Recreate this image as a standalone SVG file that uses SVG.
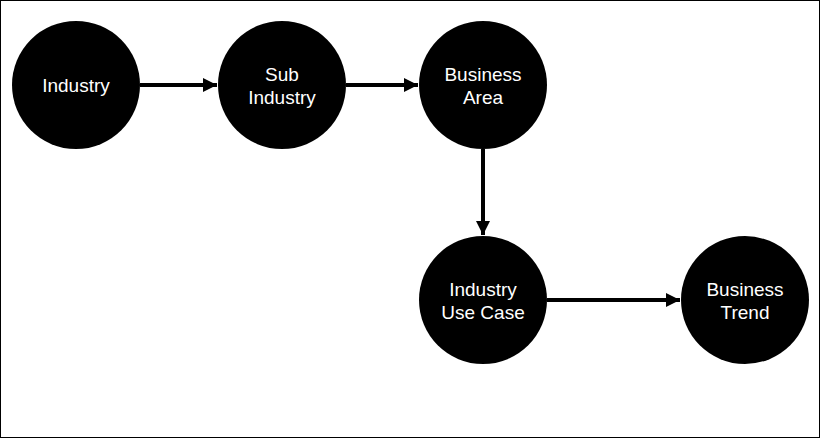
<svg xmlns="http://www.w3.org/2000/svg" width="821" height="439" viewBox="0 0 821 439">
<style>
.node circle{fill:#000;}
.node text{fill:#fff;font-family:"Liberation Sans",Arial,sans-serif;font-size:19px;text-anchor:middle;}
.edge{stroke:#000;stroke-width:4;fill:none;}
</style>
<defs>
<marker id="arr" markerUnits="userSpaceOnUse" markerWidth="16" markerHeight="16" viewBox="0 0 16 16" refX="15" refY="8" orient="auto">
<path d="M1,1 L15,8 L1,15 Z" fill="#000"/>
</marker>
</defs>
<rect x="0.5" y="0.5" width="819" height="437" fill="#fff" stroke="#000" stroke-width="1"/>
<g id="connectors">
<line class="edge" x1="140" y1="85" x2="217" y2="85" marker-end="url(#arr)"/>
<line class="edge" x1="346" y1="85" x2="418" y2="85" marker-end="url(#arr)"/>
<line class="edge" x1="483" y1="149" x2="483" y2="235" marker-end="url(#arr)"/>
<line class="edge" x1="547" y1="300" x2="680" y2="300" marker-end="url(#arr)"/>
</g>
<g id="industry" class="node"><circle cx="76" cy="85" r="64"/><text x="76" y="91.5">Industry</text></g>
<g id="sub-industry" class="node"><circle cx="282" cy="85" r="64"/><text x="282" y="81">Sub</text><text x="282" y="104">Industry</text></g>
<g id="business-area" class="node"><circle cx="483" cy="85" r="64"/><text x="483" y="81">Business</text><text x="483" y="104">Area</text></g>
<g id="industry-use-case" class="node"><circle cx="483" cy="300" r="64"/><text x="483" y="296">Industry</text><text x="483" y="319">Use Case</text></g>
<g id="business-trend" class="node"><circle cx="745" cy="300" r="64"/><text x="745" y="296">Business</text><text x="745" y="319">Trend</text></g>
</svg>
